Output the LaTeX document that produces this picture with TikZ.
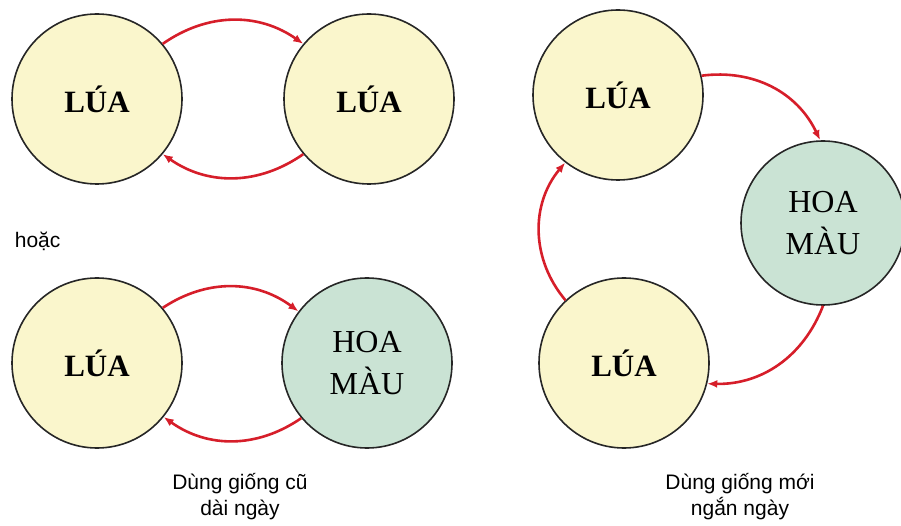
\documentclass[tikz,border=0pt]{standalone}
\usepackage{fontspec}
\setmainfont{Liberation Serif}
\setsansfont{Liberation Sans}
\usetikzlibrary{arrows.meta, positioning}
\definecolor{myyellow}{RGB}{250, 246, 204}
\definecolor{mygreen}{RGB}{202, 227, 212}
\definecolor{myred}{RGB}{214, 30, 42}

\begin{document}
\begin{tikzpicture}[x=1pt, y=1pt, line width=1pt, >={Latex[length=10pt,width=8pt]},
	lua/.style={circle, draw=black!85, line width=1.6pt, fill=myyellow, minimum size=170pt, inner sep=0pt, font=\fontsize{31}{37}\selectfont\bfseries},
	hoamau/.style={lua, fill=mygreen, align=center, font=\fontsize{32}{42}\selectfont},
	caption/.style={align=center, font=\sffamily\fontsize{21}{26}\selectfont}]
	
	\useasboundingbox (0,0) rectangle (901,525);
	
	% lua - lua
	\node[lua] (luaA) at (97,426) {LÚA};
	\node[lua] (luaB) at (369,426) {LÚA};
	
	% lua - hoa mau
	\node[lua] (luaC) at (97,162) {LÚA};
	\node[hoamau] (hoaC) at (367,162) {HOA\\MÀU};
	
	% lua - hoa mau - lua
	\node[lua] (luaD) at (618,430) {LÚA};
	\node[hoamau, minimum size=164pt] (hoaD) at (823,302) {HOA\\MÀU};
	\node[lua] (luaE) at (624,162) {LÚA};
	
	% texts
	\node[caption, anchor=base west] (hoac) at (11,277) {hoặc};
	\node[caption] (cu) at (240,28) {Dùng giống cũ\\dài ngày};
	\node[caption] (moi) at (740,28) {Dùng giống mới\\ngắn ngày};
	
	% arrows
	\foreach \a/\b/\s/\e/\bnd in {
		luaA/luaB/40/140/35,
		luaB/luaA/220/320/35,
		luaC/hoaC/40/143/35,
		hoaC/luaC/220/321/35,
		luaD/hoaD/13/92/36,
		hoaD/luaE/270/346/35,
		luaE/luaD/133/232/40
	}{
		\path[->, myred, line width=2.6pt] (\a.\s) edge [bend left=\bnd] (\b.\e);
	}
	
\end{tikzpicture}
\end{document}
